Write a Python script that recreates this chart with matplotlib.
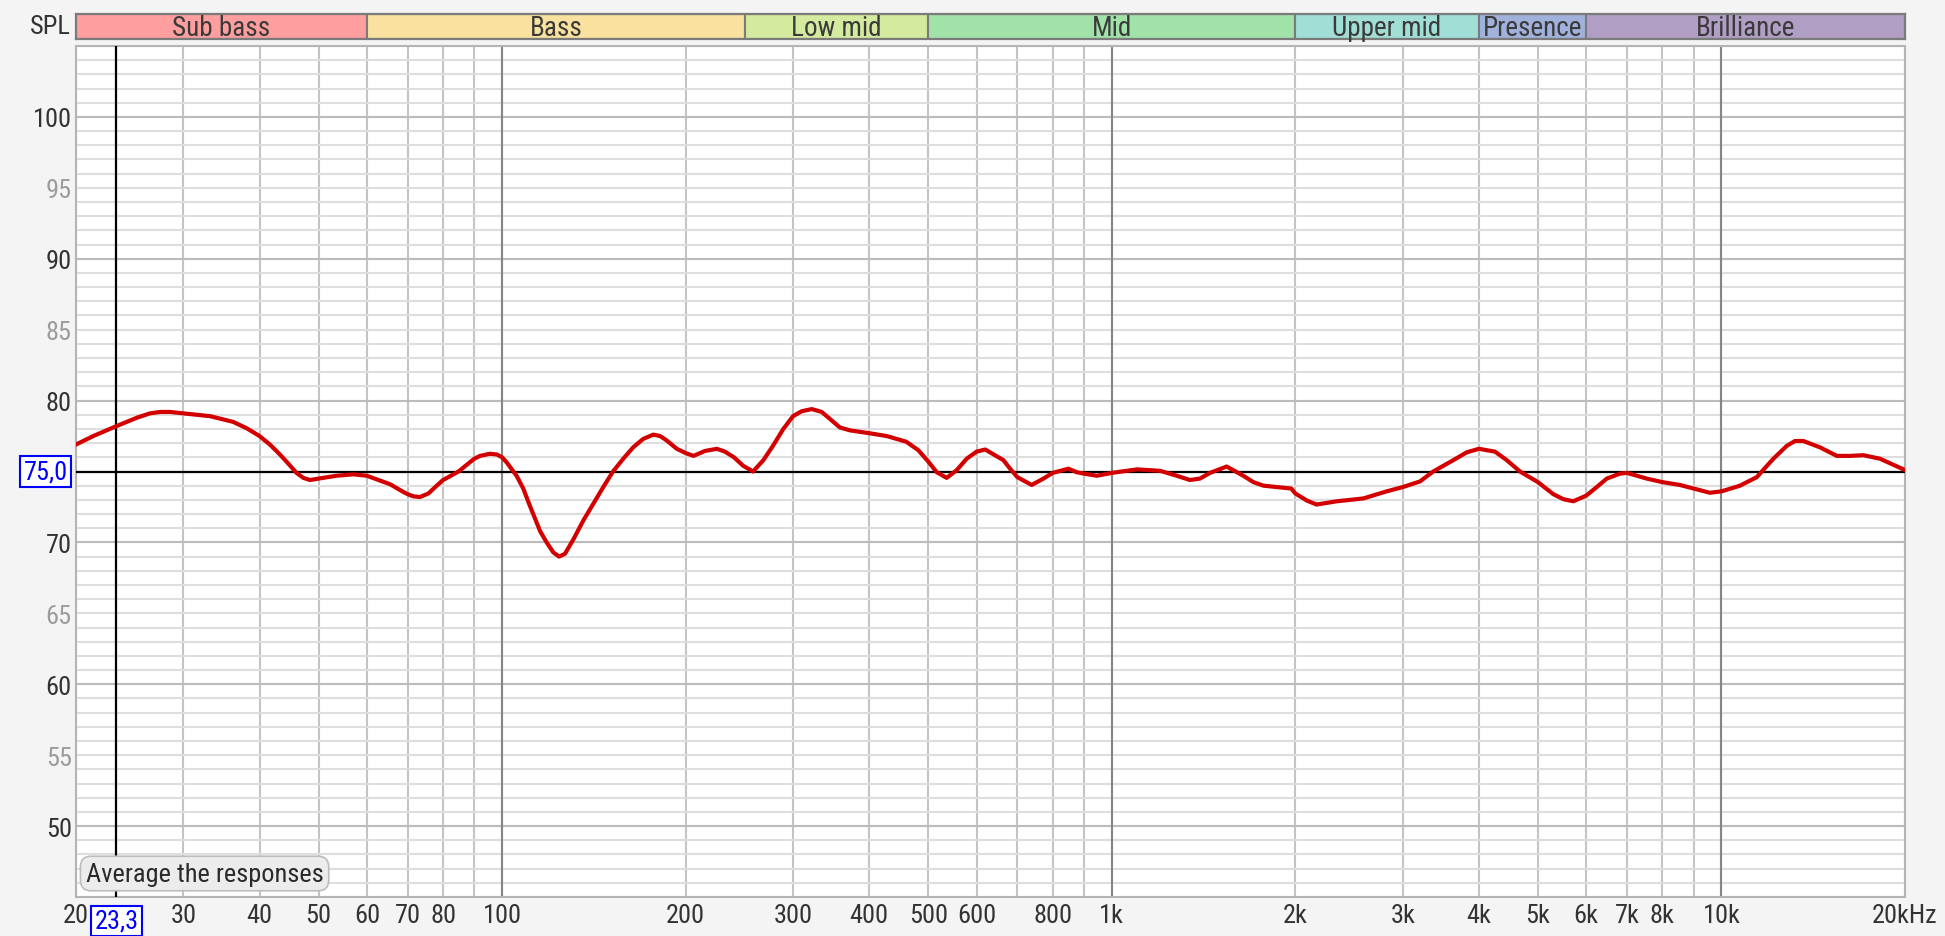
"""
Frequency response (SPL vs frequency) with band strip on top
"""
import matplotlib
matplotlib.use('Agg')
from matplotlib import pyplot as plt
from matplotlib.ticker import FixedLocator, NullFormatter
import numpy as np

plt.rcParams['font.family'] = ['Roboto Condensed', 'DejaVu Sans']

freq_hz = [20, 21.35, 23.3, 25.2, 26.45, 27.5, 28.5, 30, 33.2, 36.2, 38.1, 40, 41.6, 43.2, 44.6,
           46, 47.2, 48.4, 50, 53.5, 57, 60, 65.5, 68.9, 70, 71.5, 73.3, 75.7, 78.1, 80, 81.6,
           84.8, 90, 92, 95.5, 98, 100, 101.7, 105.6, 108.3, 111, 115.4, 118.3, 121.3, 124,
           126.8, 131, 135.9, 141, 146.5, 152, 158, 164, 170.4, 177, 181.6, 186, 193.4, 200,
           206, 215.2, 225, 232, 240, 248.6, 258, 268.2, 278, 289.2, 300, 310, 322, 334.3,
           345, 358.2, 372, 400, 427.3, 460, 481.6, 500, 516.2, 536, 556.8, 578, 600, 620,
           664, 681, 700, 739, 772.4, 800, 849, 875.8, 900, 945, 1000, 1100, 1200, 1278,
           1343, 1395, 1449, 1543, 1643, 1707, 1773, 1969, 2000, 2089, 2167, 2338, 2586,
           2824, 3000, 3203, 3367, 3632, 3820, 4000, 4252, 4444, 4672, 5000, 5299, 5503,
           5715, 6000, 6243, 6484, 6817, 7000, 7541, 8000, 8550, 9000, 9571, 10000, 10723,
           11424, 12165, 12791, 13200, 13623, 14512, 15459, 16250, 17085, 18200, 20000]
spl_db = [76.9, 77.5, 78.2, 78.8, 79.1, 79.2, 79.2, 79.1, 78.9, 78.5, 78.05, 77.5, 76.9, 76.2, 75.55,
          74.9, 74.55, 74.4, 74.5, 74.7, 74.8, 74.7, 74.1, 73.55, 73.4, 73.25, 73.2, 73.45, 74.0, 74.4, 74.6,
          75.0, 75.9, 76.1, 76.25, 76.2, 76.0, 75.65, 74.7, 73.8, 72.6, 70.8, 70.0, 69.3, 69.0,
          69.2, 70.25, 71.55, 72.7, 73.9, 75.0, 75.9, 76.7, 77.3, 77.6, 77.5, 77.2, 76.6, 76.3,
          76.1, 76.45, 76.6, 76.4, 76.0, 75.4, 75.0, 75.8, 76.8, 78.0, 78.9, 79.25, 79.4, 79.2,
          78.7, 78.1, 77.9, 77.7, 77.5, 77.1, 76.5, 75.7, 74.95, 74.55, 75.1, 75.9, 76.4, 76.55,
          75.8, 75.2, 74.6, 74.05, 74.5, 74.9, 75.2, 74.95, 74.85, 74.7, 74.9, 75.15, 75.05, 74.7,
          74.4, 74.5, 74.9, 75.35, 74.7, 74.25, 74.0, 73.8, 73.45, 72.95, 72.67, 72.9, 73.1,
          73.6, 73.9, 74.3, 75.0, 75.8, 76.35, 76.6, 76.4, 75.8, 75.0, 74.25, 73.4, 73.05,
          72.9, 73.3, 73.9, 74.5, 74.85, 74.9, 74.5, 74.25, 74.05, 73.8, 73.5, 73.6, 74.0,
          74.6, 75.9, 76.8, 77.15, 77.15, 76.7, 76.1, 76.1, 76.15, 75.9, 75.1]

# frequency bands for the strip on top
band_names = ['Sub bass', 'Bass', 'Low mid', 'Mid', 'Upper mid', 'Presence', 'Brilliance']
band_edges = [20, 60, 250, 500, 2000, 4000, 6000, 20000]
band_colors = ['#ff9e9e', '#f9e2a0', '#d4ea9e', '#a0e2a8', '#a0ded6', '#a0b2dc', '#b09ec4']

xtick_vals = [20, 30, 40, 50, 60, 70, 80, 100, 200, 300, 400, 500, 600, 800,
              1000, 2000, 3000, 4000, 5000, 6000, 7000, 8000, 10000, 20000]
xtick_labels = ['20', '30', '40', '50', '60', '70', '80', '100', '200', '300', '400', '500', '600', '800',
                '1k', '2k', '3k', '4k', '5k', '6k', '7k', '8k', '10k', '20kHz']
xgrid_extra = [90, 700, 900, 9000]
ytick_vals = [50, 55, 60, 65, 70, 75, 80, 85, 90, 95, 100]

cursor_freq = 23.3
cursor_spl = 75.0

W, H = 1945, 937
BG = '#f4f4f4'
TXT = '#333333'
FS = 19


def px_box(x0, y0, x1, y1):
    return [x0 / W, 1 - y1 / H, (x1 - x0) / W, (y1 - y0) / H]


fig = plt.figure(figsize=(W / 100, H / 100), dpi=100, facecolor=BG)
ax = fig.add_axes(px_box(76, 47, 1905, 898))
band_ax = fig.add_axes(px_box(76, 15, 1905, 40))

# band strip
band_ax.set_xscale('log')
band_ax.set_xlim(20, 20000)
band_ax.set_ylim(0, 1)
for name, lo, hi, c in zip(band_names, band_edges[:-1], band_edges[1:], band_colors):
    band_ax.axvspan(lo, hi, facecolor=c, edgecolor='#7b7b7b', lw=1.5)
    band_ax.text(np.sqrt(lo * hi), 0.48, name, ha='center', va='center',
                 fontsize=19.5, color='#3a3a3a')
band_ax.set_xticks([])
band_ax.set_yticks([])
band_ax.xaxis.set_minor_locator(FixedLocator([]))
for s in band_ax.spines.values():
    s.set_color('#7b7b7b')
    s.set_linewidth(1.6)

fig.text(71 / W, 1 - 27.5 / H, 'SPL', ha='right', va='center', fontsize=FS, color=TXT)

# main plot
ax.set_facecolor('white')
ax.set_xscale('log')
ax.set_xlim(20, 20000)
ax.set_ylim(45, 105)

ax.set_xticks(xtick_vals, xtick_labels)
ax.xaxis.set_minor_locator(FixedLocator(xgrid_extra))
ax.xaxis.set_minor_formatter(NullFormatter())
ax.set_yticks(ytick_vals)
ax.yaxis.set_minor_locator(FixedLocator(range(45, 106)))

ax.tick_params(axis='both', which='both', length=0, labelsize=FS, labelcolor=TXT)
ax.tick_params(axis='x', pad=4)
ax.tick_params(axis='y', pad=3)

ax.grid(axis='x', which='both', color='#c4c4c4', lw=1.5)
ax.grid(axis='y', which='both', color='#dedede', lw=1.5)
for v in ytick_vals:
    if v % 10 == 0:
        ax.axhline(v, color='#bcbcbc', lw=1.5, zorder=1.6)
for d in [100, 1000, 10000]:
    ax.axvline(d, color='#858585', lw=1.5, zorder=1.7)

# y labels: tens dark, fives light, cursor value replaced by blue box
labels = []
for v in ytick_vals:
    labels.append('' if v == cursor_spl else str(v))
ax.set_yticklabels(labels)
for lbl, v in zip(ax.get_yticklabels(), ytick_vals):
    lbl.set_color(TXT if v % 10 == 0 else '#9c9c9c')

for s in ax.spines.values():
    s.set_color('#b4b4b4')
    s.set_linewidth(1.5)

# cursor crosshair
ax.axvline(cursor_freq, color='black', lw=1.6, zorder=4)
ax.axhline(cursor_spl, color='black', lw=1.6, zorder=4)

ax.plot(freq_hz, spl_db, color='#d20000', lw=3, zorder=5, solid_joinstyle='round')

blue_box = dict(boxstyle='square,pad=0.12', fc='white', ec='#0000ff', lw=1.5)
ax.text(cursor_freq, -0.028, '23,3', transform=ax.get_xaxis_transform(), ha='center', va='center',
        fontsize=FS, color='#0000ff', bbox=blue_box, clip_on=False, zorder=10)
ax.text(-0.0045, cursor_spl, '75,0', transform=ax.get_yaxis_transform(), ha='right', va='center',
        fontsize=FS, color='#0000ff', bbox=blue_box, clip_on=False, zorder=10)

# button in the lower left corner
ax.text(0.0703, 0.0276, 'Average the responses', transform=ax.transAxes, ha='center', va='center',
        fontsize=19, color='#2a2a2a', zorder=10,
        bbox=dict(boxstyle='round,pad=0.2,rounding_size=0.4', fc='#ececec', ec='#bdbdbd', lw=1.2))

fig.savefig('out.png', dpi=100, facecolor=BG)
